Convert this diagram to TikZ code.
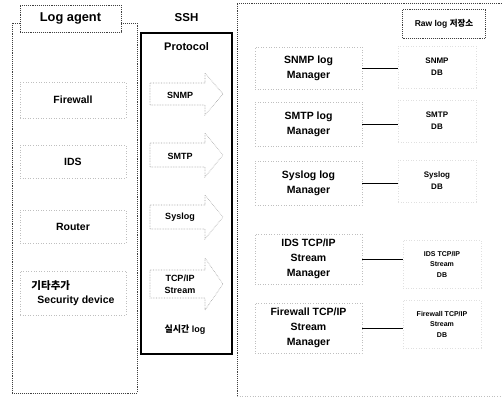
\documentclass[tikz,border=0pt]{standalone}
\usepackage{fontspec}
\setmainfont{Liberation Sans}
\newfontfamily\kr{Noto Sans CJK KR}
\begin{document}
\begin{tikzpicture}[x=1pt,y=-1pt,
  every node/.style={inner sep=0pt, outer sep=0pt},
  panel/.style={draw=black!75, densely dotted, line width=0.9pt},
  protobox/.style={draw=black, line width=1.4pt},
  faintbox/.style={draw=black!25, dotted, line width=0.6pt},
  dbbox/.style={draw=black!12, dotted, line width=0.6pt, minimum width=78pt, align=center},
  faintarrow/.style={draw=black!38, densely dotted, line width=0.6pt},
  lab/.style={font=\fontsize{10.5}{14}\selectfont\bfseries},
  plab/.style={font=\fontsize{9}{12.5}\selectfont\bfseries},
  mgr/.style={faintbox, minimum width=107pt, align=center, font=\fontsize{10.5}{15}\selectfont\bfseries},
  conn/.style={draw=black, line width=0.9pt}
]
\useasboundingbox (0,0) rectangle (502,397);

% ---------- Log agent panel ----------
\draw[panel] (12,23) rectangle (137,393);
\node[panel, fill=white, minimum width=101pt, minimum height=27pt,
      font=\fontsize{12.8}{15}\selectfont\bfseries] (agent) at (70.5,18.5) {Log agent};
\node[faintbox, lab, minimum width=106pt, minimum height=36pt] (fw) at (73,100) {Firewall};
\node[faintbox, lab, minimum width=106pt, minimum height=33pt] (ids) at (73,161.5) {IDS};
\node[faintbox, lab, minimum width=106pt, minimum height=33pt] (router) at (73,226.5) {Router};
\node[faintbox, lab, minimum width=106pt, minimum height=44pt, align=left] (sec) at (73,293)
  {{\kr 기타추가}\\\hspace*{6pt}Security device};

% ---------- Protocol panel ----------
\node[font=\fontsize{11.5}{14}\selectfont\bfseries] (ssh) at (186.5,18) {SSH};
\node[protobox, minimum width=91pt, minimum height=321pt] (proto) at (186.5,193.5) {};
\node[font=\fontsize{11}{14}\selectfont\bfseries] (protolab) at (186.5,47) {Protocol};

\foreach \c/\h/\H in {94/11/21, 155/12/22, 217/12/22, 284/14/26}{
  \draw[faintarrow] (150,\c-\h) -- (205,\c-\h) -- (205,\c-\H) -- (223,\c)
     -- (205,\c+\H) -- (205,\c+\h) -- (150,\c+\h) -- cycle;
}
\node[plab] (psnmp) at (180,95) {SNMP};
\node[plab] (psmtp) at (180,156) {SMTP};
\node[plab] (psys) at (180,217) {Syslog};
\node[plab, align=center] (ptcp) at (180,284.5) {TCP/IP\\Stream};
\node[plab] (prt) at (185,330) {{\kr 실시간} log};

% ---------- Raw log panel ----------
\draw[panel] (506,3) -- (237,3) -- (237,396);
\draw[faintbox] (237,396) -- (506,396);
\node[panel, minimum width=83pt, minimum height=29pt,
      font=\fontsize{8.5}{10}\selectfont\bfseries] (raw) at (444,24) {Raw log {\kr 저장소}};

\node[mgr, minimum height=42pt] (m1) at (308.5,68) {SNMP log\\Manager};
\node[mgr, minimum height=44pt] (m2) at (308.5,124) {SMTP log\\Manager};
\node[mgr, minimum height=44pt] (m3) at (308.5,183) {Syslog log\\Manager};
\node[mgr, minimum height=50pt] (m4) at (308.5,259) {IDS TCP/IP\\Stream\\Manager};
\node[mgr, minimum height=50pt] (m5) at (308.5,328) {Firewall TCP/IP\\Stream\\Manager};

\node[dbbox, minimum height=42pt, font=\fontsize{8}{12}\selectfont\bfseries] (d1) at (437,67) {SNMP\\DB};
\node[dbbox, minimum height=42pt, font=\fontsize{8}{12}\selectfont\bfseries] (d2) at (437,121) {SMTP\\DB};
\node[dbbox, minimum height=42pt, font=\fontsize{8}{12}\selectfont\bfseries] (d3) at (437,181) {Syslog\\DB};
\node[dbbox, minimum height=48pt, font=\fontsize{7}{10.5}\selectfont\bfseries] (d4) at (442,264) {IDS TCP/IP\\Stream\\DB};
\node[dbbox, minimum height=48pt, font=\fontsize{7}{10.5}\selectfont\bfseries] (d5) at (442,324) {Firewall TCP/IP\\Stream\\DB};

\draw[conn] (m1.east) -- (m1.east -| d1.west);
\draw[conn] (m2.east) -- (m2.east -| d2.west);
\draw[conn] (m3.east) -- (m3.east -| d3.west);
\draw[conn] (m4.east) -- (m4.east -| d4.west);
\draw[conn] (m5.east) -- (m5.east -| d5.west);
\end{tikzpicture}
\end{document}
